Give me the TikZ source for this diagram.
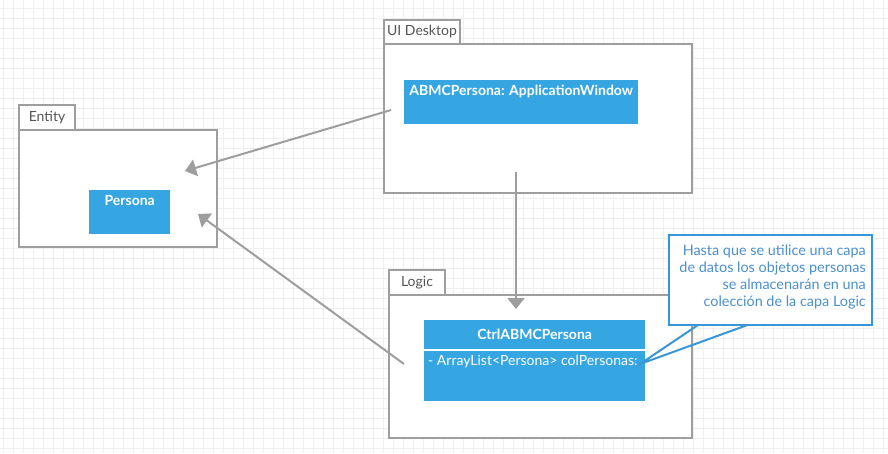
\documentclass[tikz,border=0pt]{standalone}
\usepackage{fontspec}
\setmainfont{Lato}
\usetikzlibrary{arrows.meta,positioning}
\definecolor{umlblue}{HTML}{36A6E2}
\definecolor{umlgray}{HTML}{9E9E9E}
\definecolor{pkgtext}{HTML}{555555}
\definecolor{notetext}{HTML}{4A8FCF}
\definecolor{noteline}{HTML}{3A96D8}
\definecolor{gridgray}{HTML}{EFEFEF}

\begin{document}
\begin{tikzpicture}[x=1pt,y=-1pt,>={Triangle[length=11pt,width=17pt]}]
  \tikzstyle{every node}=[inner sep=0pt,anchor=north west]
  \tikzstyle{pkgbody}=[draw=umlgray,line width=2pt,fill=white]
  \tikzstyle{pkgtab}=[pkgbody,text=pkgtext,font=\fontsize{14}{16}\selectfont]
  \tikzstyle{classbox}=[fill=umlblue,text=white,font=\bfseries\fontsize{14}{16}\selectfont]
  \tikzstyle{link}=[draw=umlgray,line width=2pt,->]

  % background
  \useasboundingbox (0,0) rectangle (888,453);
  \fill[white] (0,0) rectangle (888,453);
  \foreach \gx in {3,13,...,883} \draw[gridgray,line width=0.8pt] (\gx,0) -- (\gx,453);
  \foreach \gy in {8,18,...,448} \draw[gridgray,line width=0.8pt] (0,\gy) -- (888,\gy);

  % packages
  \node[pkgtab,minimum width=56,minimum height=25] (entitytab) at (18,104) {Entity};
  \node[pkgbody,minimum width=198,minimum height=117] (entity) at (18,129) {};
  \node[pkgtab,minimum width=76,minimum height=24] (uitab) at (383,19) {UI Desktop};
  \node[pkgbody,minimum width=308,minimum height=149] (ui) at (383,43) {};
  \node[pkgtab,minimum width=56,minimum height=25] (logictab) at (388,269) {Logic};
  \node[pkgbody,minimum width=303,minimum height=143] (logic) at (388,294) {};

  % classes
  \node[classbox,minimum width=81,minimum height=44] (persona) at (89,190) {};
  \node[classbox,anchor=north] at ([yshift=-5pt]persona.north) {Persona};
  \node[classbox,minimum width=234,minimum height=44] (window) at (404,80) {};
  \node[classbox,anchor=north] at ([yshift=-5pt]window.north) {ABMCPersona: ApplicationWindow};
  \node[classbox,minimum width=221,minimum height=29] (ctrl) at (424,320) {};
  \node[classbox,anchor=center] at (ctrl.center) {CtrlABMCPersona};
  \node[classbox,minimum width=221,minimum height=50] (ctrlattr) at (424,351) {};
  \node[classbox,font=\fontsize{14}{16}\selectfont] (attr) at ([xshift=4pt,yshift=-4pt]ctrlattr.north west) {- ArrayList<Persona> colPersonas:};

  % dependencies
  \coordinate (winout) at (391,110);
  \coordinate (entin1) at (185,171);
  \coordinate (ctrlout) at (404,364);
  \coordinate (entin2) at (198,214);
  \coordinate (uidown) at (516,172);
  \coordinate (logicin) at (516,309);
  \draw[link] (winout) -- (entin1);
  \draw[link] (ctrlout) -- (entin2);
  \draw[link] (uidown) -- (logicin);

  % note
  \coordinate (notel) at (701,323);
  \coordinate (noter) at (753,323);
  \coordinate (notetip) at (640,364);
  \draw[noteline,line width=2pt,line join=miter] (notel) -- (notetip) -- (noter);
  \node[draw=noteline,fill=white,line width=2pt,minimum width=203,minimum height=90] (note) at (668,234) {};
  \node[anchor=east,text=notetext,align=right,font=\fontsize{14.4}{17}\selectfont] (notetext) at (866,277)
    {Hasta que se utilice una capa\\de datos los objetos personas\\se almacenarán en una\\colección de la capa Logic};
\end{tikzpicture}
\end{document}
